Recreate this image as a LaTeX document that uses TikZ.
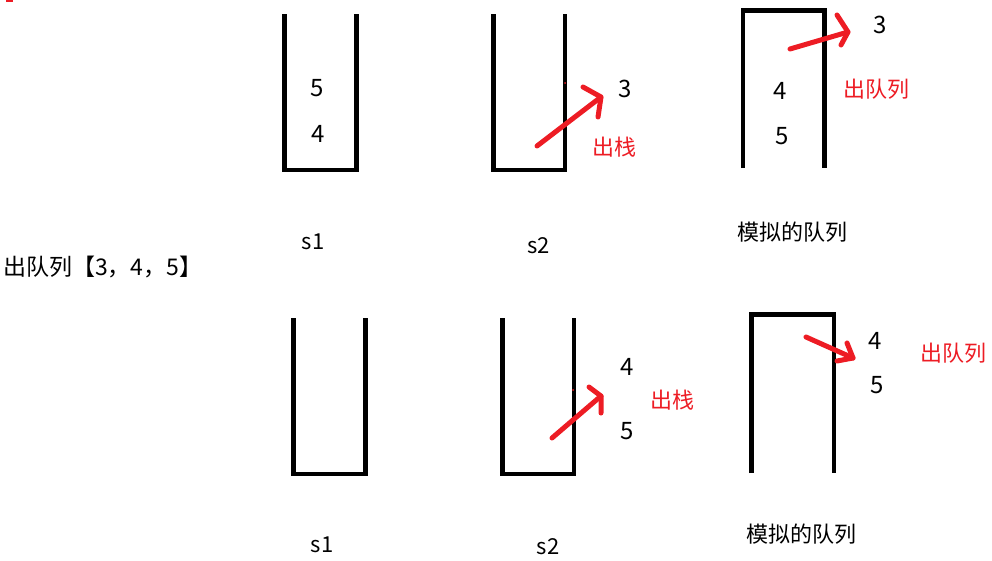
\documentclass[tikz,border=0pt]{standalone}
\usepackage{fontspec}
\newfontfamily\cjk{Noto Sans CJK SC}
\definecolor{pred}{HTML}{ED1C24}
\begin{document}
\begin{tikzpicture}[x=1pt,y=-1pt,
  wall/.style={line width=4.7pt, line join=miter, line cap=butt},
  stroke/.style={pred, line width=5pt, line cap=round, line join=round},
  num/.style={font=\cjk\fontsize{24}{28}\selectfont, inner sep=0pt},
  lbl/.style={font=\cjk\fontsize{22}{26}\selectfont, inner sep=0pt},
  zh/.style={font=\cjk\fontsize{22}{26}\selectfont, inner sep=0pt},
  zhred/.style={zh, text=pred}]
\useasboundingbox (0,0) rectangle (992,560);
% tiny red mark top-left
\fill[pred] (6,0) rectangle (13,2);
% ---- top row containers ----
\draw[wall] (284.5,14) -- (284.5,170) -- (356.5,170) -- (356.5,14);
\draw[wall] (493.5,14) -- (493.5,170) -- (565,170) -- (565,14);
\draw[wall] (743,168) -- (743,10.7) -- (824.7,10.7) -- (824.7,168);
% ---- bottom row containers ----
\draw[wall] (293.3,318) -- (293.3,474) -- (365.3,474) -- (365.3,318);
\draw[wall] (502.6,318) -- (502.6,474) -- (574,474) -- (574,318);
\draw[wall] (751.3,473) -- (751.3,314.3) -- (834,314.3) -- (834,473);
% ---- top row texts ----
\node[num] (t5) at (316.7,87.8) {5};
\node[num] (t4) at (318.3,133.8) {4};
\node[num] (t3) at (625.5,89) {3};
\node[zhred] (tpop) at (614,146.7) {出栈};
\node[num] (q3) at (880.5,25) {3};
\node[num] (q4) at (780.3,90.5) {4};
\node[num] (q5) at (782,136) {5};
\node[zhred] (tdeq) at (876.7,89.5) {出队列};
\node[lbl] (ts1) at (313,241.7) {s1};
\node[lbl] (ts2) at (538.7,245.5) {s2};
\node[zh] (tq) at (792.5,231.7) {模拟的队列};
% ---- left text ----
\node[zh, font=\cjk\fontsize{23}{27}\selectfont, anchor=west] (out) at (3,266.7) {出队列【3，4，5】};
% ---- bottom row texts ----
\node[num] (b4) at (627,366.7) {4};
\node[num] (b5) at (627.5,430.8) {5};
\node[zhred] (bpop) at (672.8,399.7) {出栈};
\node[num] (r4) at (875,340.5) {4};
\node[num] (r5) at (876.7,385.5) {5};
\node[zhred] (bdeq) at (953.3,353) {出队列};
\node[lbl] (bs1) at (322,545) {s1};
\node[lbl] (bs2) at (548,547) {s2};
\node[zh] (bq) at (801.7,534) {模拟的队列};
% ---- red arrows ----
\draw[stroke] (537,146) -- (601,97);
\draw[stroke] (583,87) -- (601,97) -- (598,117);
\draw[stroke] (790,49) -- (848,32);
\draw[stroke] (837,15) -- (848,32) -- (841,45);
\draw[stroke] (552,438) -- (601,396);
\draw[stroke] (589,387) -- (601,396) -- (601,413);
\draw[stroke] (806,337) -- (853,358);
\draw[stroke] (847,343) -- (853,358) -- (837,361);
% tiny red specks
\fill[pred] (565,83) circle (1);
\fill[pred] (573,390) circle (1);
\end{tikzpicture}
\end{document}
